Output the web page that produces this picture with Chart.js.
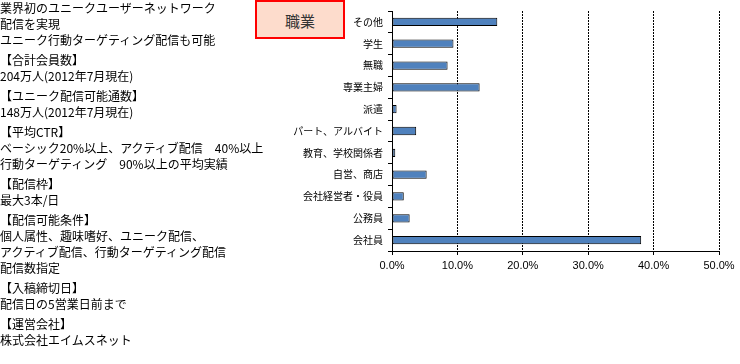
<!DOCTYPE html>
<html>
<head>
<meta charset="utf-8">
<script src="https://cdn.jsdelivr.net/npm/chart.js@4"></script>
<style>
  body { margin: 0; background: #fff; }
  #wrap { position: relative; width: 740px; height: 364px; overflow: hidden; }
  #chart { position: absolute; left: 0; top: 0; }
  #info {
    position: absolute; left: 0; top: 0; width: 250px;
    font: 12px "Noto Sans CJK JP", sans-serif; color: #000;
  }
  #info .blk { margin-bottom: 4px; }
  #info .ln { height: 16px; line-height: 16px; white-space: nowrap; }
  #tag {
    position: absolute; left: 255px; top: 0; width: 86px; height: 35px;
    background: #fddccc; border: 2px solid #ff0000;
    font: 15px "Noto Sans CJK JP", sans-serif; color: #333;
    text-align: center; line-height: 38px;
  }
</style>
</head>
<body>
<div id="wrap">
  <canvas id="chart" width="740" height="364"></canvas>
  <div id="info"></div>
  <div id="tag">職業</div>
</div>
<script>
// 職業別 構成比 (%)
const categories = [
  "その他", "学生", "無職", "専業主婦", "派遣", "パート、アルバイト",
  "教育、学校関係者", "自営、商店", "会社経営者・役員", "公務員", "会社員"
];
const shares = [16.1, 9.4, 8.5, 13.4, 0.7, 3.7, 0.5, 5.3, 1.8, 2.7, 38.1];
const axisMax = 50;
const axisStep = 10;

// left description blocks
const infoBlocks = [
  ["業界初のユニークユーザーネットワーク", "配信を実現", "ユニーク行動ターゲティング配信も可能"],
  ["【合計会員数】", "204万人(2012年7月現在)"],
  ["【ユニーク配信可能通数】", "148万人(2012年7月現在)"],
  ["【平均CTR】", "ベーシック20%以上、アクティブ配信\u300040%以上", "行動ターゲティング\u300090%以上の平均実績"],
  ["【配信枠】", "最大3本/日"],
  ["【配信可能条件】", "個人属性、趣味嗜好、ユニーク配信、", "アクティブ配信、行動ターゲティング配信", "配信数指定"],
  ["【入稿締切日】", "配信日の5営業日前まで"],
  ["【運営会社】", "株式会社エイムスネット"]
];

const info = document.getElementById("info");
infoBlocks.forEach((lines) => {
  const blk = document.createElement("div");
  blk.className = "blk";
  lines.forEach((t) => {
    const ln = document.createElement("div");
    ln.className = "ln";
    ln.textContent = t;
    blk.appendChild(ln);
  });
  info.appendChild(blk);
});

new Chart(document.getElementById("chart"), {
  type: "bar",
  data: {
    labels: categories,
    datasets: [
      {
        data: shares,
        backgroundColor: "#4f81bd",
        borderColor: "#000",
        borderWidth: 1,
        borderSkipped: false,
        barPercentage: 0.38,
        categoryPercentage: 1,
      },
    ],
  },
  options: {
    indexAxis: "y",
    responsive: false,
    animation: false,
    layout: { padding: { top: 10, right: 21, bottom: 89, left: 0 } },
    plugins: { legend: { display: false }, tooltip: { enabled: false } },
    scales: {
      x: {
        min: 0,
        max: axisMax,
        afterFit: (s) => { s.height = 24; },
        ticks: {
          stepSize: axisStep,
          padding: 4,
          color: "#000",
          font: { family: "Liberation Sans", size: 11 },
          callback: (v) => v.toFixed(1) + "%",
        },
        grid: {
          color: "#000",
          lineWidth: 1,
          tickLength: 4,
          tickColor: "#000",
        },
        border: { color: "#000", width: 1, dash: [2, 1] },
      },
      y: {
        afterFit: (s) => { s.width = 392; },
        ticks: {
          padding: 5,
          color: "#000",
          font: { family: "Noto Sans CJK JP", size: 10 },
        },
        grid: {
          drawOnChartArea: false,
          tickLength: 4,
          color: "#000",
        },
        border: { color: "#000", width: 1 },
      },
    },
  },
});
</script>
</body>
</html>
